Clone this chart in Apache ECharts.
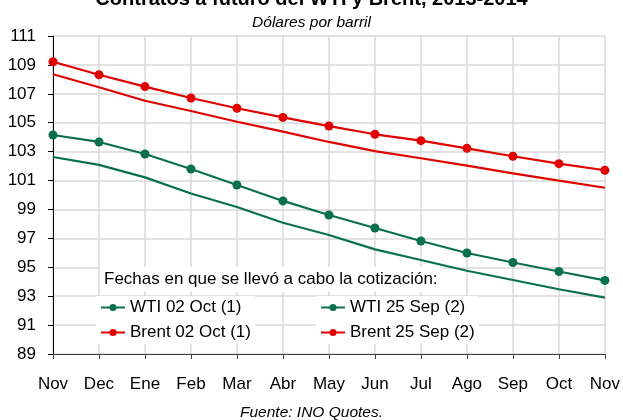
<!DOCTYPE html>
<html>
<head>
<meta charset="utf-8">
<script src="https://cdn.jsdelivr.net/npm/echarts@6/dist/echarts.min.js"></script>
<style>
  html, body { margin: 0; padding: 0; background: #fff; }
  #chart { width: 623px; height: 420px; }
</style>
</head>
<body>
<div id="chart"></div>
<script>
// meses de los contratos
var meses = ['Nov', 'Dec', 'Ene', 'Feb', 'Mar', 'Abr', 'May', 'Jun', 'Jul', 'Ago', 'Sep', 'Oct', 'Nov'];

var wti02Oct = [104.15, 103.67, 102.84, 101.8, 100.69, 99.59, 98.62, 97.72, 96.82, 95.99, 95.33, 94.71, 94.09];
var wti25Sep = [102.63, 102.08, 101.22, 100.1, 99.17, 98.08, 97.23, 96.24, 95.5, 94.76, 94.12, 93.48, 92.9];
var brent02Oct = [109.22, 108.32, 107.5, 106.71, 106.0, 105.37, 104.77, 104.2, 103.76, 103.23, 102.68, 102.17, 101.71];
var brent25Sep = [108.35, 107.45, 106.52, 105.81, 105.07, 104.38, 103.67, 103.04, 102.54, 102.03, 101.5, 100.99, 100.5];

var nombres = ['WTI 02 Oct (1)', 'WTI 25 Sep (2)', 'Brent 02 Oct (1)', 'Brent 25 Sep (2)'];

var verde = '#0a704b';
var rojo = '#e00000';
var fuente = 'Arial, "Liberation Sans", sans-serif';

var chart = echarts.init(document.getElementById('chart'));

var option = {
  backgroundColor: '#fff',
  animation: false,
  textStyle: { fontFamily: fuente },
  title: [
    {
      text: 'Contratos a futuro del WTI y Brent, 2013-2014',
      left: 'center', top: -16,
      textStyle: { fontSize: 20, fontWeight: 'bold', color: '#000', fontFamily: fuente }
    },
    {
      text: 'Dólares por barril',
      left: 'center', top: 10,
      textStyle: { fontSize: 15.5, fontStyle: 'italic', fontWeight: 'normal', color: '#000', fontFamily: fuente }
    },
    {
      text: 'Fechas en que se llevó a cabo la cotización:',
      left: 100, top: 267,
      padding: [4, 4, 4, 4],
      backgroundColor: '#fff',
      textStyle: { fontSize: 17, fontWeight: 'normal', color: '#000', fontFamily: fuente }
    },
    {
      text: 'Fuente: INO Quotes.',
      left: 'center', top: 400,
      textStyle: { fontSize: 15.5, fontStyle: 'italic', fontWeight: 'normal', color: '#000', fontFamily: fuente }
    }
  ],
  legend: [
    {
      data: [nombres[0], nombres[2]],
      orient: 'vertical',
      left: 96, top: 296,
      itemGap: 8,
      itemWidth: 24, itemHeight: 9,
      padding: [3, 4, 3, 4],
      backgroundColor: '#fff',
      textStyle: { fontSize: 17, color: '#000', fontFamily: fuente }
    },
    {
      data: [nombres[1], nombres[3]],
      orient: 'vertical',
      left: 316, top: 296,
      itemGap: 8,
      itemWidth: 24, itemHeight: 9,
      padding: [3, 4, 3, 4],
      backgroundColor: '#fff',
      textStyle: { fontSize: 17, color: '#000', fontFamily: fuente }
    }
  ],
  grid: { left: 53, right: 17, top: 36, bottom: 66, containLabel: false },
  xAxis: {
    type: 'category',
    data: meses,
    boundaryGap: false,
    axisLine: { lineStyle: { color: '#404040', width: 1 } },
    axisTick: { show: true, length: 5, lineStyle: { color: '#404040' } },
    axisLabel: { color: '#000', fontSize: 17, margin: 22, fontFamily: fuente },
    splitLine: { show: true, lineStyle: { color: '#d9d9d9', width: 1.5 } }
  },
  yAxis: {
    type: 'value',
    min: 89, max: 111, interval: 2,
    axisLine: { show: true, lineStyle: { color: '#000', width: 1 } },
    axisTick: { show: true, length: 5, lineStyle: { color: '#000' } },
    axisLabel: { color: '#000', fontSize: 17, margin: 17, fontFamily: fuente },
    splitLine: { show: true, lineStyle: { color: '#d9d9d9', width: 1.5 } }
  },
  series: [
    {
      name: nombres[0], type: 'line', data: wti02Oct,
      symbol: 'circle', symbolSize: 9,
      lineStyle: { color: verde, width: 2.2 }, itemStyle: { color: verde }
    },
    {
      name: nombres[1], type: 'line', data: wti25Sep,
      symbol: 'none',
      lineStyle: { color: verde, width: 2.2 }, itemStyle: { color: verde }
    },
    {
      name: nombres[2], type: 'line', data: brent02Oct,
      symbol: 'circle', symbolSize: 9,
      lineStyle: { color: rojo, width: 2.2 }, itemStyle: { color: rojo }
    },
    {
      name: nombres[3], type: 'line', data: brent25Sep,
      symbol: 'none',
      lineStyle: { color: rojo, width: 2.2 }, itemStyle: { color: rojo }
    }
  ]
};

chart.setOption(option);
</script>
</body>
</html>
